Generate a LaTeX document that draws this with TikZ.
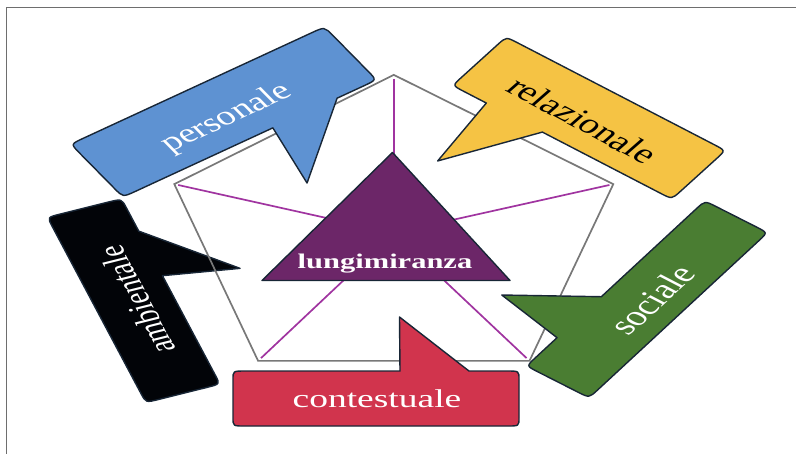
\documentclass[tikz,border=0pt]{standalone}
\usepackage{fontspec}
\setmainfont{Liberation Serif}

\definecolor{bluefill}{RGB}{94,146,210}
\definecolor{yellowfill}{RGB}{245,195,68}
\definecolor{greenfill}{RGB}{74,125,50}
\definecolor{redfill}{RGB}{209,52,77}
\definecolor{blackfill}{RGB}{2,4,8}
\definecolor{trianglefill}{RGB}{108,38,104}
\definecolor{spokepurple}{RGB}{160,52,160}
\definecolor{navyline}{RGB}{24,38,54}
\definecolor{frameline}{RGB}{110,110,110}
\definecolor{pentaline}{RGB}{120,120,120}

\tikzset{
  outline/.style={draw=navyline, line width=1.4pt, line join=round},
  spoke/.style={draw=spokepurple, line width=1.7pt, shorten <=4pt},
  pentagon/.style={draw=pentaline, line width=1.7pt, line join=miter},
  bubbletext/.style={font=\fontsize{#1}{#1}\selectfont, inner sep=0pt},
}

% Speech bubble in its own frame: a rounded rectangle of half width #2,
% half height #3 and corner radius #4, with a wedge on the lower edge
% between u=#5 and u=#6, ending at the tip (#7,#8).
\newcommand{\bubble}[8]{%
  \filldraw[outline, fill=#1]
    (-#2,-#3+#4) .. controls (-#2,-#3) .. (-#2+#4,-#3)
    -- (#2-#4,-#3) .. controls (#2,-#3) .. (#2,-#3+#4)
    -- (#2,#3-#4) .. controls (#2,#3) .. (#2-#4,#3)
    -- (#6,#3) -- (#7,#8) -- (#5,#3)
    -- (-#2+#4,#3) .. controls (-#2,#3) .. (-#2,#3-#4)
    -- cycle;}

\begin{document}
\begin{tikzpicture}[x=1pt, y=-1pt]
\useasboundingbox (0,0) rectangle (796,454);

% thin frame along the top and left
\draw[frameline, line width=0.9pt] (6,454) -- (6,7) -- (796,7);

\begin{scope}[yscale=0.685, transform shape]

  % ambientale (under the pentagon)
  \begin{scope}[shift={(133.7,439)}, rotate=110]
    \bubble{blackfill}{144}{39.5}{14}{24.5}{93.7}{8}{116.1}
  \end{scope}
  \node[bubbletext=37.5, text=white, rotate=110] (ambientale) at (136.5,438) {ambientale};

  % pentagon, spokes and central triangle
  \coordinate (pc) at (393.8,340.1);
  \coordinate (v1) at (393.8,109.3);
  \coordinate (v2) at (613.3,268.8);
  \coordinate (v3) at (529.5,526.8);
  \coordinate (v4) at (258.1,526.8);
  \coordinate (v5) at (174.3,268.8);
  \draw[pentagon] (v1) -- (v2) -- (v3) -- (v4) -- (v5) -- cycle;
  \foreach \v in {v1,v2,v3,v4,v5} \draw[spoke] (\v) -- (pc);

  \coordinate (t1) at (392.5,222.6);
  \coordinate (t2) at (510,409.5);
  \coordinate (t3) at (262,409.5);
  \filldraw[outline, fill=trianglefill] (t1) -- (t2) -- (t3) -- cycle;
  \node[bubbletext=30.5, font=\fontsize{30.5}{30.5}\selectfont\bfseries, text=white, anchor=base]
    (centre) at (385,391.7) {lungimiranza};

  % personale
  \begin{scope}[shift={(223.7,163.5)}, rotate=34]
    \bubble{bluefill}{153}{46.7}{15}{27.8}{105.3}{11.1}{132.6}
  \end{scope}
  \node[bubbletext=39, text=white, rotate=34] (personale) at (226.7,172.7) {personale};

  % relazionale
  \begin{scope}[shift={(589,172.3)}, rotate=-37.1]
    \bubble{yellowfill}{137.5}{44.5}{14}{-95.1}{-24.8}{-82.9}{141.3}
  \end{scope}
  \node[bubbletext=40.5, text=black, rotate=-38] (relazionale) at (582.7,175.2) {relazionale};

  % sociale
  \begin{scope}[shift={(647,437)}, rotate=233.5]
    \bubble{greenfill}{150}{39}{14}{24.1}{98.5}{81.3}{120.5}
  \end{scope}
  \node[bubbletext=41, text=white, rotate=53] (sociale) at (651.7,438) {sociale};

  % contestuale
  \begin{scope}[shift={(376,581.8)}, rotate=180]
    \bubble{redfill}{143}{40.15}{12}{-93}{-24}{-23.5}{119}
  \end{scope}
  \node[bubbletext=37.5, text=white, anchor=base] (contestuale) at (377,594.6) {contestuale};

\end{scope}
\end{tikzpicture}
\end{document}
